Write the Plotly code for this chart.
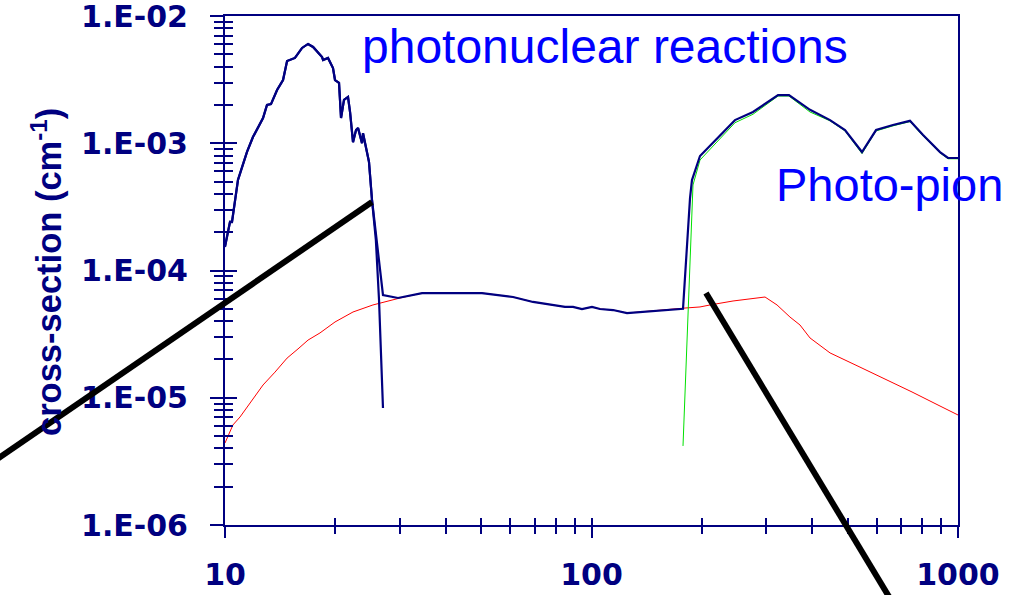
import plotly.graph_objects as go

NAVY = "#000080"

# ---- data (energy in MeV, cross-section in cm^-1) ----
gdr_e = [10.0, 10.32, 10.45, 10.85, 11.48, 11.92, 12.70, 13.02, 13.35, 13.87, 14.40, 14.77,
         15.52, 16.23, 16.85, 17.39, 18.40, 18.52, 19.10, 19.71, 19.96, 20.47, 20.73, 21.12,
         21.66, 21.94, 22.35, 22.78, 23.07, 23.65, 23.80, 24.40, 24.71, 25.18, 25.80, 26.32, 26.98]
gdr_v = [1.53e-4, 2.40e-4, 2.40e-4, 5.14e-4, 8.53e-4, 1.12e-3, 1.58e-3, 2.00e-3, 2.03e-3, 2.62e-3,
         3.14e-3, 4.43e-3, 4.68e-3, 5.61e-3, 6.03e-3, 5.71e-3, 4.76e-3, 4.51e-3, 4.68e-3, 3.90e-3,
         3.14e-3, 2.98e-3, 1.58e-3, 2.19e-3, 2.31e-3, 1.76e-3, 1.02e-3, 1.27e-3, 1.32e-3, 1.00e-3,
         1.20e-3, 8.38e-4, 7.12e-4, 3.58e-4, 1.74e-4, 5.86e-5, 8.31e-6]

total_e = [10.0, 10.32, 10.45, 10.85, 11.48, 11.92, 12.70, 13.02, 13.35, 13.87, 14.40, 14.77,
           15.52, 16.23, 16.85, 17.39, 18.40, 18.52, 19.10, 19.71, 19.96, 20.47, 20.73, 21.12,
           21.66, 21.94, 22.35, 22.78, 23.07, 23.65, 23.80, 24.40, 24.71, 25.18, 26.32, 26.98,
           29.65, 34.5, 50.25, 61.07, 69.25, 84.67, 89.03, 94.2, 100.3, 105.5, 114.5, 125.0,
           177.7, 185.7, 188.0, 197.7, 246.3, 275.8, 322.8, 345.8, 394.7, 447.6, 491.7, 547.1,
           597.6, 664.6, 739.6, 802.8, 893.1, 939.2, 1000.0]
total_v = [1.55e-4, 2.42e-4, 2.42e-4, 5.16e-4, 8.55e-4, 1.12e-3, 1.58e-3, 2.00e-3, 2.03e-3, 2.62e-3,
           3.14e-3, 4.43e-3, 4.68e-3, 5.61e-3, 6.03e-3, 5.71e-3, 4.76e-3, 4.51e-3, 4.68e-3, 3.90e-3,
           3.14e-3, 2.98e-3, 1.58e-3, 2.19e-3, 2.31e-3, 1.76e-3, 1.02e-3, 1.27e-3, 1.32e-3, 1.00e-3,
           1.20e-3, 8.40e-4, 7.14e-4, 3.60e-4, 1.21e-4, 6.42e-5,
           6.08e-5, 6.65e-5, 6.65e-5, 6.19e-5, 5.66e-5, 5.17e-5, 5.17e-5, 4.98e-5, 5.17e-5, 4.98e-5,
           4.89e-5, 4.63e-5,
           5.00e-5, 3.71e-4, 5.14e-4, 7.94e-4, 1.52e-3, 1.76e-3, 2.39e-3, 2.39e-3, 1.83e-3, 1.52e-3,
           1.27e-3, 8.53e-4, 1.27e-3, 1.39e-3, 1.50e-3, 1.16e-3, 8.53e-4, 7.66e-4, 7.66e-4]

bh_e = [10.0, 10.51, 10.99, 11.85, 12.70, 13.69, 14.77, 15.82, 16.85, 18.16, 19.96, 22.35, 25.33,
        30.03, 34.5, 50.25, 61.07, 69.25, 84.67, 89.03, 94.2, 100.3, 105.5, 114.5, 125.0, 179.9,
        197.7, 210.6, 243.3, 297.5, 320.8, 347.9, 370.6, 394.7, 447.6, 540.3, 640.4, 749.0, 893.1,
        1000.0]
bh_v = [4.41e-6, 6.11e-6, 7.06e-6, 9.60e-6, 1.26e-5, 1.59e-5, 2.05e-5, 2.42e-5, 2.84e-5, 3.23e-5,
        3.94e-5, 4.72e-5, 5.36e-5, 6.08e-5, 6.65e-5, 6.65e-5, 6.19e-5, 5.66e-5, 5.17e-5, 5.17e-5,
        4.98e-5, 5.17e-5, 4.98e-5, 4.89e-5, 4.63e-5, 5.07e-5, 5.17e-5, 5.36e-5, 5.76e-5, 6.19e-5,
        5.36e-5, 4.31e-5, 3.73e-5, 2.95e-5, 2.25e-5, 1.74e-5, 1.38e-5, 1.11e-5, 8.61e-6, 7.32e-6]

pion_e = [177.7, 189.2, 197.7, 246.3, 275.8, 322.8, 345.8, 394.7, 447.6, 491.7, 547.1, 597.6,
          664.6, 739.6, 802.8, 893.1, 939.2, 1000.0]
pion_v = [4.18e-6, 4.70e-4, 7.38e-4, 1.45e-3, 1.69e-3, 2.35e-3, 2.35e-3, 1.76e-3, 1.50e-3,
          1.25e-3, 8.30e-4, 1.25e-3, 1.37e-3, 1.48e-3, 1.14e-3, 8.40e-4, 7.55e-4, 7.55e-4]

x_tickvals = [10, 100, 1000]
x_ticktext = ["10", "100", "1000"]
y_tickvals = [1e-6, 1e-5, 1e-4, 1e-3, 1e-2]
y_ticktext = ["1.E-06", "1.E-05", "1.E-04", "1.E-03", "1.E-02"]
x_minor = [m * 10 ** d for d in (1, 2) for m in range(2, 10)]
y_minor = [m * 10.0 ** d for d in (-6, -5, -4, -3) for m in range(2, 10)]

fig = go.Figure()
fig.add_trace(go.Scatter(x=bh_e, y=bh_v, mode="lines", line=dict(color="#ff0000", width=1)))
fig.add_trace(go.Scatter(x=pion_e, y=pion_v, mode="lines", line=dict(color="#00e000", width=1)))
fig.add_trace(go.Scatter(x=gdr_e, y=gdr_v, mode="lines", line=dict(color=NAVY, width=2.2)))
fig.add_trace(go.Scatter(x=total_e, y=total_v, mode="lines", line=dict(color=NAVY, width=2.2)))
# empty trace to activate overlay axes (inside half of crossing ticks)
fig.add_trace(go.Scatter(x=[], y=[], xaxis="x2", yaxis="y2", mode="lines"))

tickfont = dict(family="DejaVu Sans", size=30, color=NAVY, weight="bold")

fig.update_layout(
    width=1019, height=595,
    margin=dict(l=225, r=61, t=16, b=70, autoexpand=False),
    paper_bgcolor="white", plot_bgcolor="white",
    showlegend=False,
    xaxis=dict(type="log", range=[1, 3], showgrid=False, zeroline=False, automargin=False,
               showline=True, linecolor=NAVY, linewidth=2, mirror=True,
               ticks="outside", ticklen=11, tickwidth=1.5, tickcolor=NAVY,
               tickmode="array", tickvals=x_tickvals, ticktext=x_ticktext,
               tickfont=tickfont, ticklabelstandoff=11, ticklabeloverflow="allow",
               minor=dict(tickmode="array", tickvals=x_minor, ticks="outside",
                          ticklen=7, tickwidth=1.5, tickcolor=NAVY)),
    yaxis=dict(type="log", range=[-6, -2], showgrid=False, zeroline=False, automargin=False,
               showline=True, linecolor=NAVY, linewidth=2, mirror=True,
               ticks="outside", ticklen=13, tickwidth=1.5, tickcolor=NAVY,
               tickmode="array", tickvals=y_tickvals, ticktext=y_ticktext,
               tickfont=tickfont, ticklabelstandoff=16, ticklabeloverflow="allow",
               minor=dict(tickmode="array", tickvals=y_minor, ticks="outside",
                          ticklen=9, tickwidth=1.5, tickcolor=NAVY)),
    xaxis2=dict(type="log", range=[1, 3], overlaying="x", anchor="y2", side="bottom",
                showgrid=False, zeroline=False, showline=False, showticklabels=False,
                automargin=False,
                ticks="inside", ticklen=7, tickwidth=1.5, tickcolor=NAVY,
                tickmode="array", tickvals=x_tickvals,
                minor=dict(tickmode="array", tickvals=x_minor, ticks="inside",
                           ticklen=7, tickwidth=1.5, tickcolor=NAVY)),
    yaxis2=dict(type="log", range=[-6, -2], overlaying="y", anchor="x2", side="left",
                showgrid=False, zeroline=False, showline=False, showticklabels=False,
                automargin=False,
                ticks="inside", ticklen=12, tickwidth=1.5, tickcolor=NAVY,
                tickmode="array", tickvals=y_tickvals,
                minor=dict(tickmode="array", tickvals=y_minor, ticks="inside",
                           ticklen=8, tickwidth=1.5, tickcolor=NAVY)),
)

# thick black pointer lines (from callouts outside the frame)
fig.add_shape(type="line", xref="paper", yref="paper", x0=-0.3206, y0=0.1198, x1=0.2005, y1=0.6346,
              line=dict(color="black", width=6))
fig.add_shape(type="line", xref="paper", yref="paper", x0=0.6562, y0=0.4558, x1=0.9127, y1=-0.1572,
              line=dict(color="black", width=6))

fig.add_annotation(text="photonuclear reactions", xref="paper", yref="paper", x=0.518, y=0.941,
                   xanchor="center", yanchor="middle", showarrow=False,
                   font=dict(family="Liberation Sans, Arial", size=48, color="#0000ff"))
fig.add_annotation(text="Photo-pion", xref="paper", yref="paper", x=0.907, y=0.668,
                   xanchor="center", yanchor="middle", showarrow=False,
                   font=dict(family="Liberation Sans, Arial", size=47, color="#0000ff"))
fig.add_annotation(text="cross-section (cm<sup>-1</sup>)", xref="paper", yref="paper",
                   x=-0.2442, y=0.497, xanchor="center", yanchor="middle", textangle=-90,
                   showarrow=False,
                   font=dict(family="Liberation Sans, Arial", size=34.5, color=NAVY, weight="bold"))

fig.write_html("out.html", post_script="document.body.style.margin='0';",
               config={"displayModeBar": False})
